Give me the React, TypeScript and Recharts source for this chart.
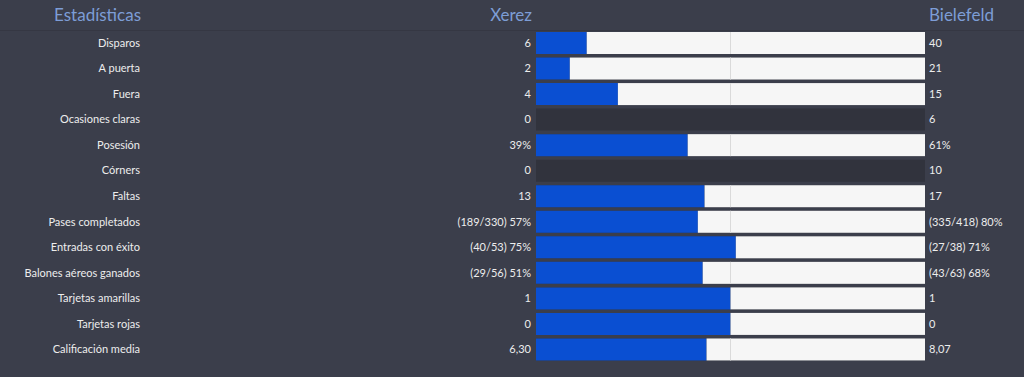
import { BarChart, Bar, XAxis, YAxis } from 'recharts'

const stats = [
    'Disparos',
    'A puerta',
    'Fuera',
    'Ocasiones claras',
    'Posesión',
    'Córners',
    'Faltas',
    'Pases completados',
    'Entradas con éxito',
    'Balones aéreos ganados',
    'Tarjetas amarillas',
    'Tarjetas rojas',
    'Calificación media',
]
const xerezValues = [6, 2, 4, 0, 39, 0, 13, 57, 75, 51, 1, 0, 6.3]
const bielefeldValues = [40, 21, 15, 6, 61, 10, 17, 80, 71, 68, 1, 0, 8.07]
const xerezLabels = ['6', '2', '4', '0', '39%', '0', '13', '(189/330) 57%', '(40/53) 75%', '(29/56) 51%', '1', '0', '6,30']
const bielefeldLabels = ['40', '21', '15', '6', '61%', '10', '17', '(335/418) 80%', '(27/38) 71%', '(43/63) 68%', '1', '0', '8,07']

const BG = '#3b3e4b'
const TRACK = '#31333d'
const BLUE = '#0a4fd2'
const WHITE = '#f6f6f6'
const HEAD = '#7d9dd6'
const FONT = 'Lato, "Open Sans", sans-serif'

// the game draws no bar at all when the home side has 0 and the away side doesn't
const rows = stats.map((stat, i) => {
    const h = xerezValues[i]
    const a = bielefeldValues[i]
    const total = h + a
    const empty = h === 0 && a > 0
    return {
        stat,
        track: 1,
        xerez: empty ? 0 : total === 0 ? 0.5 : h / total,
        bielefeld: empty ? 0 : total === 0 ? 0.5 : a / total,
        xerezLabel: xerezLabels[i],
        bielefeldLabel: bielefeldLabels[i],
    }
})

function RowTick(props: any) {
    const { y, payload, index } = props
    const r = rows[index] ?? rows.find((d) => d.stat === payload.value)
    return (
        <g fontFamily={FONT} fontSize={11} fill="#ededed">
            <text x={140} y={y} dy={4} textAnchor="end">{payload.value}</text>
            <text x={531} y={y} dy={4} textAnchor="end">{r?.xerezLabel}</text>
            <text x={929} y={y} dy={4} textAnchor="start">{r?.bielefeldLabel}</text>
        </g>
    )
}

function AwayShape(props: any) {
    const { x, y, width, height, payload } = props
    if (!width || width <= 0) return null
    const full = width / payload.bielefeld
    const mid = x + width - full / 2
    return (
        <g>
            <rect x={x} y={y} width={width} height={height} fill={WHITE} />
            {mid > x && <line x1={mid} x2={mid} y1={y} y2={y + height} stroke="#dadada" strokeWidth={1} />}
        </g>
    )
}

export default function App() {
    const head = { position: 'absolute' as const, top: 4, color: HEAD, fontFamily: FONT, fontSize: 17 }
    return (
        <div style={{ position: 'fixed', left: 0, top: 0, width: 1024, height: 377, background: BG }}>
            <div style={{ position: 'absolute', left: 0, top: 30, width: 1024, height: 1, background: '#353743' }} />
            <div style={{ ...head, left: 0, width: 141, textAlign: 'right' }}>Estadísticas</div>
            <div style={{ ...head, left: 400, width: 532 - 400, textAlign: 'right' }}>Xerez</div>
            <div style={{ ...head, left: 929 }}>Bielefeld</div>
            <div style={{ position: 'absolute', left: 0, top: 0 }}>
                <BarChart
                    width={1024}
                    height={377}
                    data={rows}
                    layout="vertical"
                    margin={{ top: 30, right: 99, left: 0, bottom: 15 }}
                    barSize={22}
                >
                    <XAxis type="number" domain={[0, 1]} hide />
                    <YAxis
                        type="category"
                        dataKey="stat"
                        width={536}
                        axisLine={false}
                        tickLine={false}
                        interval={0}
                        tick={<RowTick />}
                    />
                    <YAxis yAxisId="track" type="category" dataKey="stat" hide />
                    <Bar dataKey="track" yAxisId="track" fill={TRACK} isAnimationActive={false} />
                    <Bar dataKey="xerez" stackId="s" fill={BLUE} isAnimationActive={false} />
                    <Bar
                        dataKey="bielefeld"
                        stackId="s"
                        fill={WHITE}
                        shape={<AwayShape />}
                        isAnimationActive={false}
                    />
                </BarChart>
            </div>
        </div>
    )
}
